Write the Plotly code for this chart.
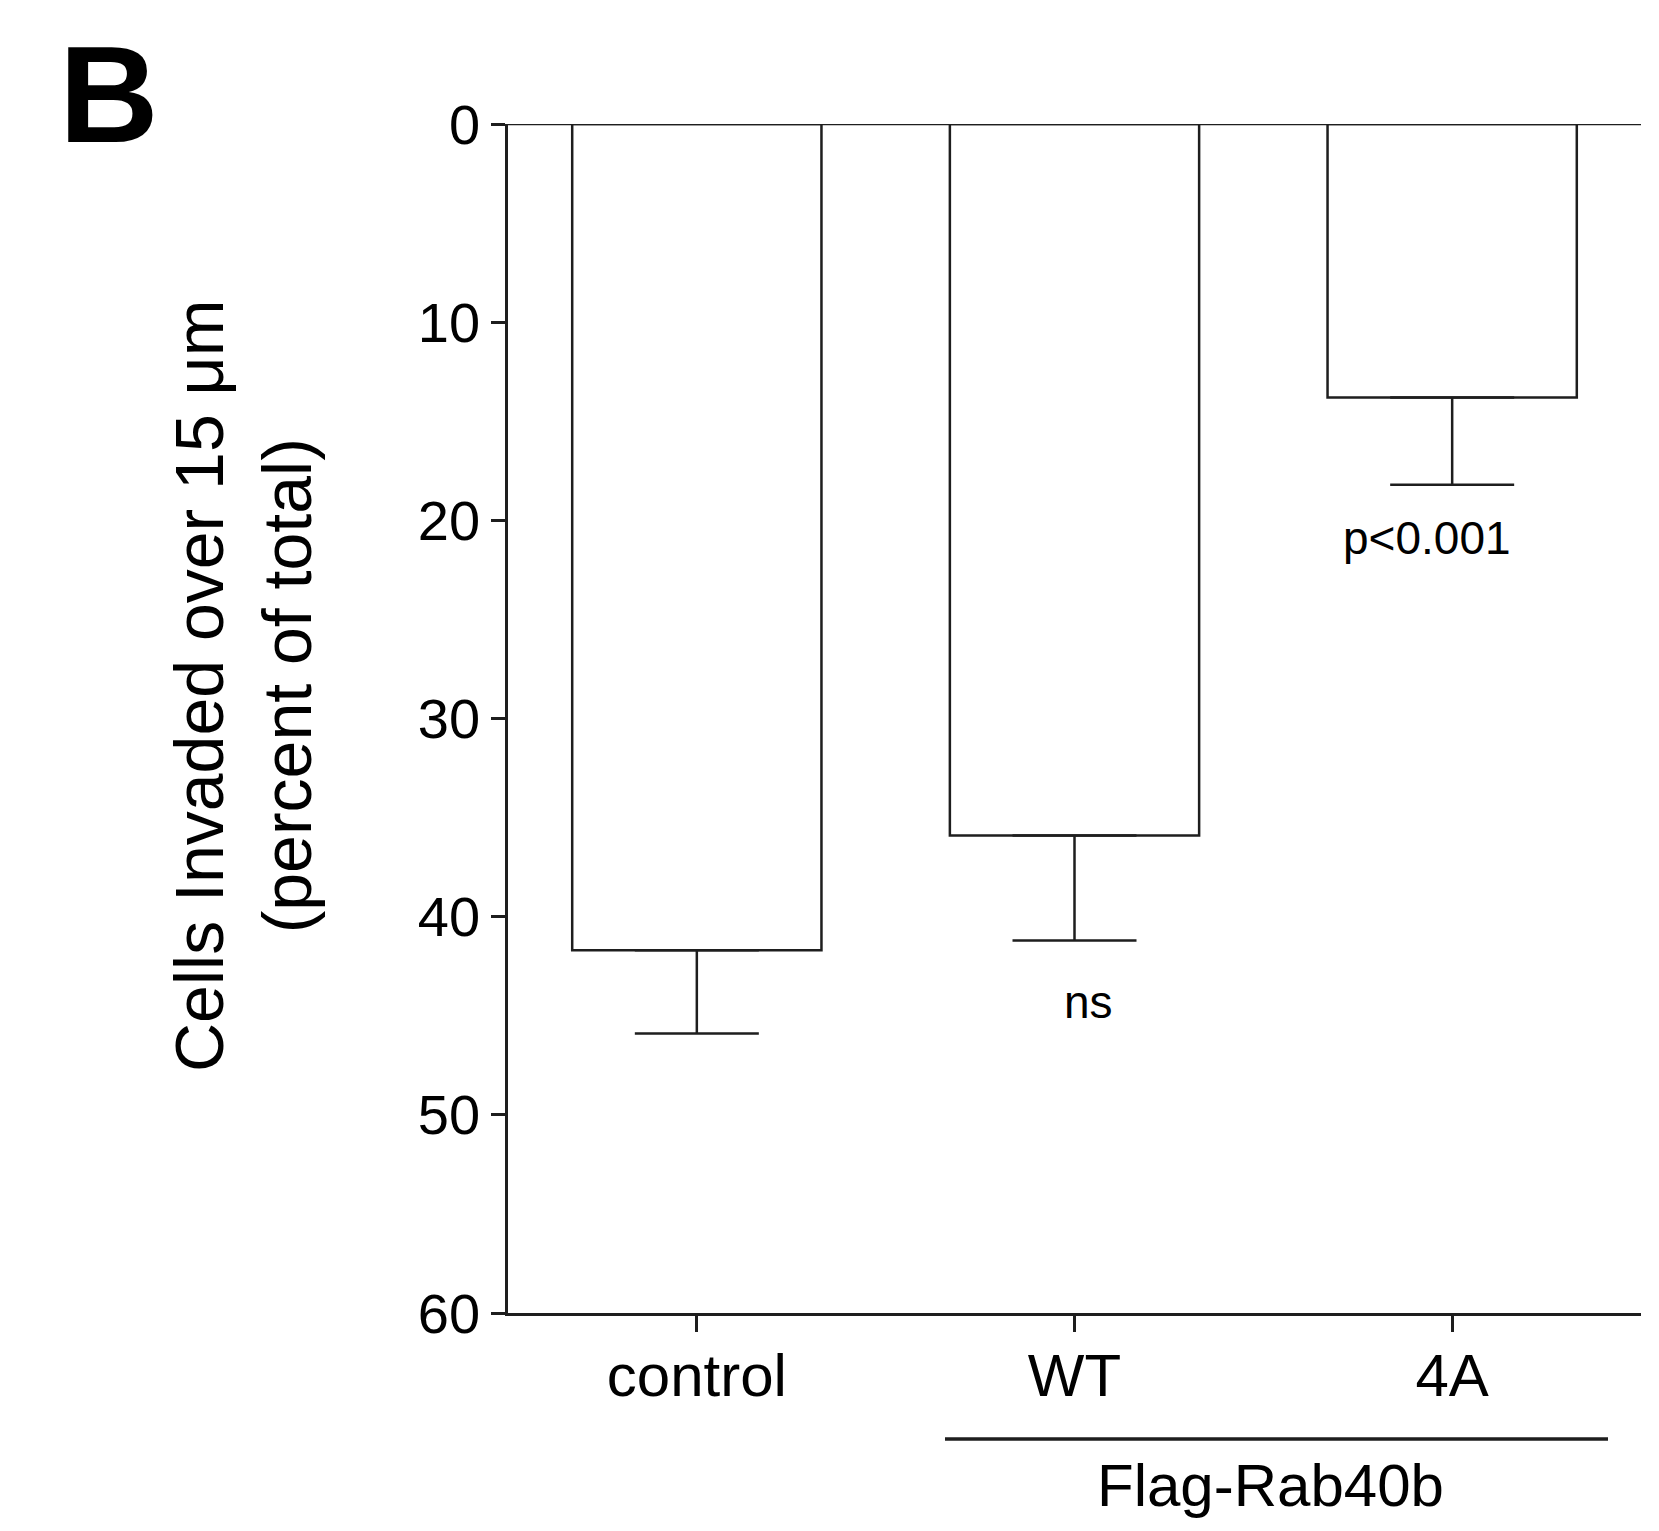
import plotly.graph_objects as go

# Invasion assay: percent of cells invading beyond 15 µm (mean ± SEM)
categories = ["control", "WT", "4A"]
mean_pct = [41.7, 35.9, 13.8]
sem_pct = [4.2, 5.3, 4.4]
significance = ["", "ns", "p<0.001"]
y_ticks = [0, 10, 20, 30, 40, 50, 60]

FONT = "Liberation Sans, Arial, Helvetica, sans-serif"
INK = "#1e1e1e"

# plot-area geometry in pixels
W, H = 1659, 1531
L, R, T, B = 508, 18, 124, 218
PW, PH = W - L - R, H - T - B


def px_x(p):
    return (p - L) / PW


def px_y(p):
    return (H - B - p) / PH


fig = go.Figure()

fig.add_trace(go.Bar(
    x=categories,
    y=mean_pct,
    width=0.66,
    marker=dict(color="white", line=dict(color=INK, width=2.5)),
    error_y=dict(
        type="data",
        symmetric=False,
        array=sem_pct,
        arrayminus=[0] * len(sem_pct),
        color=INK,
        thickness=2.5,
        width=62,
    ),
    showlegend=False,
    hoverinfo="skip",
))

# significance labels under the error bars
label_offsets = {"ns": (14, -62), "p<0.001": (-25, -53)}
for cat, m, s, lab in zip(categories, mean_pct, sem_pct, significance):
    if not lab:
        continue
    dx, dy = label_offsets[lab]
    fig.add_annotation(
        x=cat, y=m + s, xref="x", yref="y", text=lab, showarrow=False,
        xshift=dx, yshift=dy, xanchor="center", yanchor="middle",
        font=dict(family=FONT, size=46, color="black"),
    )

# y-axis title (two lines, rotated)
fig.add_annotation(
    x=px_x(243), y=px_y(686), xref="paper", yref="paper",
    text="Cells Invaded over 15 μm<br>(percent of total)",
    textangle=-90, showarrow=False, xanchor="center", yanchor="middle",
    font=dict(family=FONT, size=68, color="black"),
)

# panel letter
fig.add_annotation(
    x=px_x(109), y=px_y(94), xref="paper", yref="paper", text="<b>B</b>",
    showarrow=False, xanchor="center", yanchor="middle",
    font=dict(family=FONT, size=138, color="black"),
)

# group bracket for the Flag-Rab40b constructs
fig.add_shape(
    type="line", xref="paper", yref="paper",
    x0=px_x(945), x1=px_x(1608), y0=px_y(1439), y1=px_y(1439),
    line=dict(color=INK, width=3.5),
)
fig.add_annotation(
    x=px_x(1270), y=px_y(1485), xref="paper", yref="paper", text="Flag-Rab40b",
    showarrow=False, xanchor="center", yanchor="middle",
    font=dict(family=FONT, size=60, color="black"),
)

# baseline at zero along the top of the plot
fig.add_shape(
    type="line", xref="paper", yref="y", x0=0, x1=1, y0=0, y1=0,
    line=dict(color=INK, width=2.5),
)

fig.update_layout(
    width=W, height=H,
    margin=dict(l=L, r=R, t=T, b=B, pad=0),
    paper_bgcolor="white", plot_bgcolor="white",
    bargap=0.34,
    font=dict(family=FONT, color="black"),
    xaxis=dict(
        type="category", range=[-0.5, 2.5],
        showline=True, linecolor=INK, linewidth=3,
        ticks="outside", ticklen=16, tickwidth=2.5, tickcolor=INK,
        tickfont=dict(family=FONT, size=60, color="black"),
        ticklabelstandoff=-8,
        showgrid=False, zeroline=False,
    ),
    yaxis=dict(
        range=[60, 0], tickvals=y_ticks,
        showline=True, linecolor=INK, linewidth=2.5,
        ticks="outside", ticklen=14, tickwidth=2.5, tickcolor=INK,
        tickfont=dict(family=FONT, size=56, color="black"),
        showgrid=False, zeroline=False,
    ),
)

fig.write_html("out.html")
